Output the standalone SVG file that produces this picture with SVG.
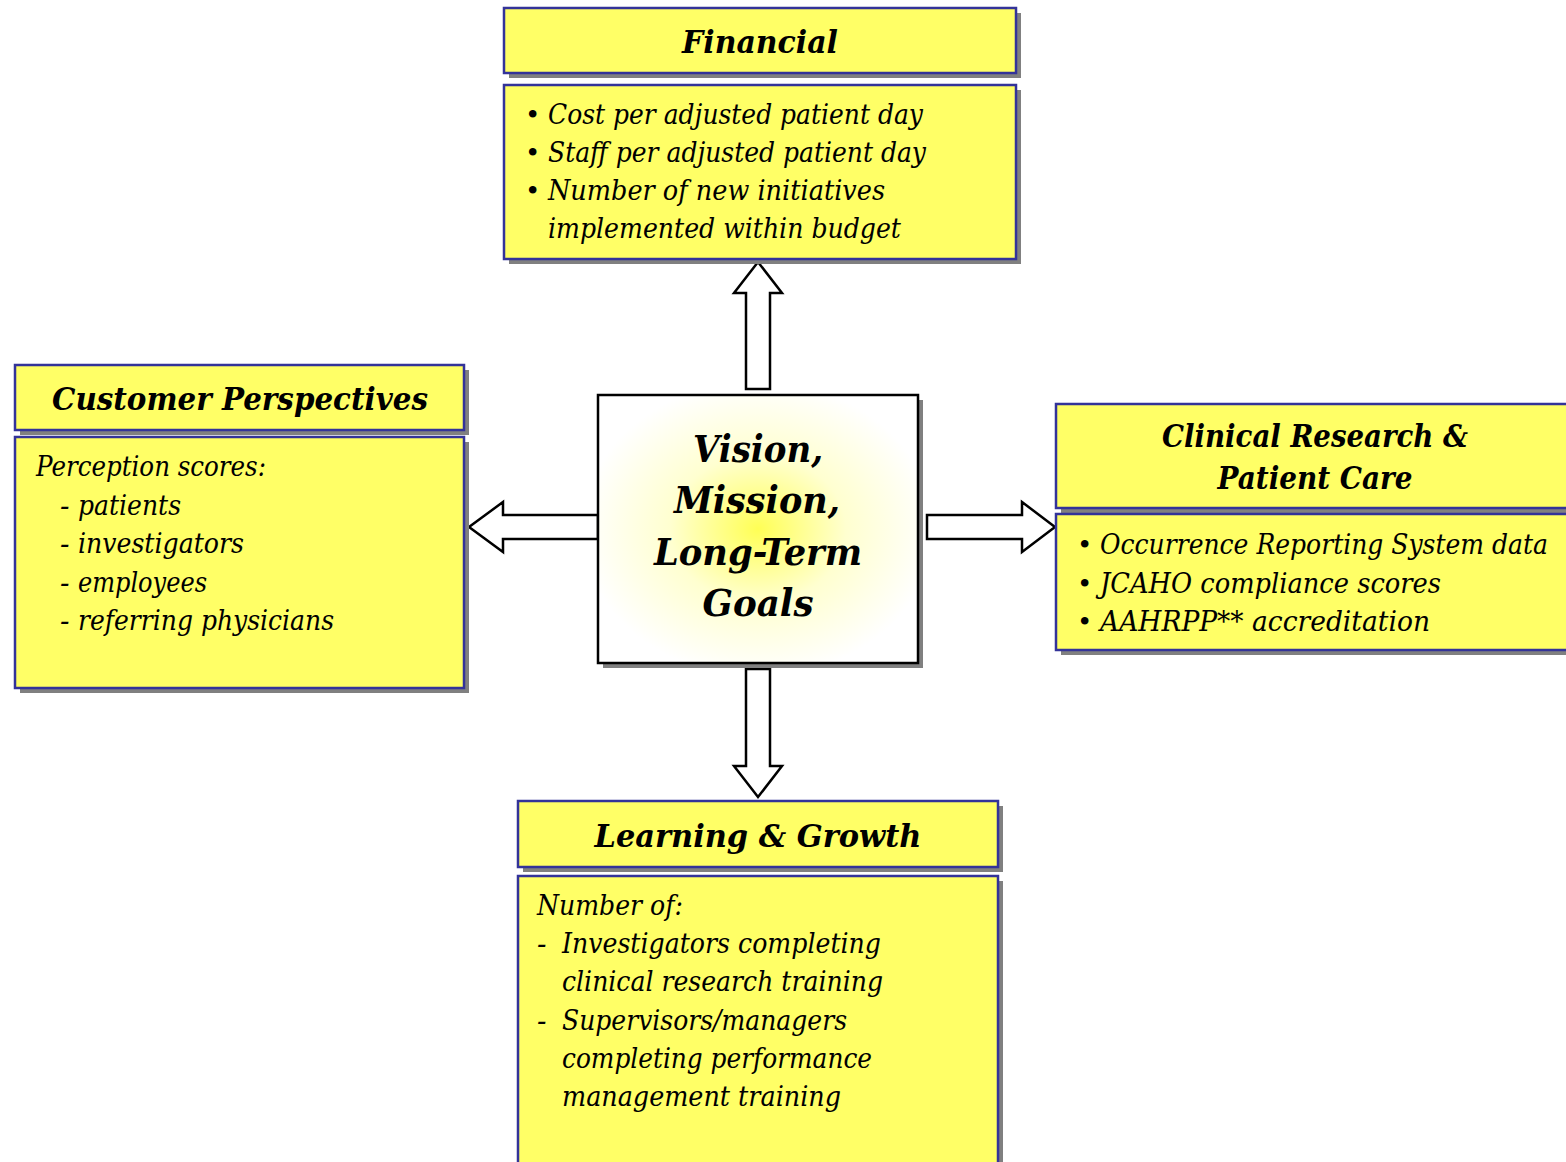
<svg xmlns="http://www.w3.org/2000/svg" width="1566" height="1162" viewBox="0 0 1566 1162">
<style>
.box{fill:#FFFF66;stroke:#333399;stroke-width:2.5}
.sh{fill:#808080}
.t{font-family:"DejaVu Serif","Liberation Serif",serif;font-style:italic;font-weight:bold;font-size:31px;fill:#000;text-anchor:middle}
.b{font-family:"DejaVu Serif","Liberation Serif",serif;font-style:italic;font-size:28px;fill:#000}
.bl{font-family:"DejaVu Serif","Liberation Serif",serif;font-size:26px;fill:#000}
.c{font-family:"DejaVu Serif","Liberation Serif",serif;font-style:italic;font-weight:bold;font-size:38px;fill:#000;text-anchor:middle}
.arr{fill:#fff;stroke:#000;stroke-width:2.5;stroke-linejoin:miter}
</style>
<defs>
<radialGradient id="glow" cx="0.5" cy="0.5" r="0.55">
<stop offset="0" stop-color="#FFFF55"/>
<stop offset="0.5" stop-color="#FFFFD0"/>
<stop offset="1" stop-color="#FFFFFF"/>
</radialGradient>
</defs>
<rect width="1566" height="1162" fill="#fff"/>

<g id="connectors">
<polygon class="arr" points="746,389 746,293 734,293 758,262 782,293 770,293 770,389"/>
<polygon class="arr" points="746,669 746,766 734,766 758,797 782,766 770,766 770,669"/>
<polygon class="arr" points="598,515 503,515 503,502 469,527 503,552 503,539 598,539"/>
<polygon class="arr" points="927,515 1022,515 1022,502 1055,527 1022,552 1022,539 927,539"/>
</g>

<g id="center">
<rect class="sh" x="603" y="400" width="320" height="268"/>
<rect x="598" y="395" width="320" height="268" fill="url(#glow)" stroke="#000" stroke-width="2.5"/>
<text class="c" x="758" y="462" textLength="130" lengthAdjust="spacingAndGlyphs">Vision,</text>
<text class="c" x="757" y="513" textLength="166" lengthAdjust="spacingAndGlyphs">Mission,</text>
<text class="c" x="758" y="565" textLength="208" lengthAdjust="spacingAndGlyphs">Long-Term</text>
<text class="c" x="758" y="616" textLength="111" lengthAdjust="spacingAndGlyphs">Goals</text>
</g>

<g id="financial">
<rect class="sh" x="509" y="13" width="512" height="65"/>
<rect class="box" x="504" y="8" width="512" height="65"/>
<text class="t" x="760" y="53" textLength="156" lengthAdjust="spacingAndGlyphs">Financial</text>
<rect class="sh" x="509" y="90" width="512" height="174"/>
<rect class="box" x="504" y="85" width="512" height="174"/>
<text class="bl" x="525" y="124">•</text>
<text class="b" x="548" y="124" textLength="375" lengthAdjust="spacingAndGlyphs">Cost per adjusted patient day</text>
<text class="bl" x="525" y="162">•</text>
<text class="b" x="548" y="162" textLength="378" lengthAdjust="spacingAndGlyphs">Staff per adjusted patient day</text>
<text class="bl" x="525" y="200">•</text>
<text class="b" x="548" y="200" textLength="337" lengthAdjust="spacingAndGlyphs">Number of new initiatives</text>
<text class="b" x="548" y="238" textLength="353" lengthAdjust="spacingAndGlyphs">implemented within budget</text>
</g>

<g id="customer">
<rect class="sh" x="20" y="370" width="449" height="65"/>
<rect class="box" x="15" y="365" width="449" height="65"/>
<text class="t" x="240" y="410" textLength="376" lengthAdjust="spacingAndGlyphs">Customer Perspectives</text>
<rect class="sh" x="20" y="442" width="449" height="251"/>
<rect class="box" x="15" y="437" width="449" height="251"/>
<text class="b" x="36" y="476" textLength="230" lengthAdjust="spacingAndGlyphs">Perception scores:</text>
<text class="b" x="60" y="515">-</text>
<text class="b" x="78" y="515" textLength="103" lengthAdjust="spacingAndGlyphs">patients</text>
<text class="b" x="60" y="553">-</text>
<text class="b" x="78" y="553" textLength="166" lengthAdjust="spacingAndGlyphs">investigators</text>
<text class="b" x="60" y="592">-</text>
<text class="b" x="78" y="592" textLength="129" lengthAdjust="spacingAndGlyphs">employees</text>
<text class="b" x="60" y="630">-</text>
<text class="b" x="78" y="630" textLength="256" lengthAdjust="spacingAndGlyphs">referring physicians</text>
</g>

<g id="clinical">
<rect class="sh" x="1061" y="409" width="520" height="104"/>
<rect class="box" x="1056" y="404" width="520" height="104"/>
<text class="t" x="1315" y="447" textLength="306" lengthAdjust="spacingAndGlyphs">Clinical Research &amp;</text>
<text class="t" x="1315" y="489" textLength="195" lengthAdjust="spacingAndGlyphs">Patient Care</text>
<rect class="sh" x="1061" y="519" width="520" height="136"/>
<rect class="box" x="1056" y="514" width="520" height="136"/>
<text class="bl" x="1077" y="554">•</text>
<text class="b" x="1100" y="554" textLength="448" lengthAdjust="spacingAndGlyphs">Occurrence Reporting System data</text>
<text class="bl" x="1077" y="593">•</text>
<text class="b" x="1100" y="593" textLength="341" lengthAdjust="spacingAndGlyphs">JCAHO compliance scores</text>
<text class="bl" x="1077" y="631">•</text>
<text class="b" x="1100" y="631" textLength="330" lengthAdjust="spacingAndGlyphs">AAHRPP** accreditation</text>
</g>

<g id="learning">
<rect class="sh" x="523" y="806" width="480" height="66"/>
<rect class="box" x="518" y="801" width="480" height="66"/>
<text class="t" x="758" y="847" textLength="327" lengthAdjust="spacingAndGlyphs">Learning &amp; Growth</text>
<rect class="sh" x="523" y="881" width="480" height="300"/>
<rect class="box" x="518" y="876" width="480" height="300"/>
<text class="b" x="537" y="915" textLength="146" lengthAdjust="spacingAndGlyphs">Number of:</text>
<text class="b" x="537" y="953">-</text>
<text class="b" x="562" y="953" textLength="319" lengthAdjust="spacingAndGlyphs">Investigators completing</text>
<text class="b" x="562" y="991" textLength="321" lengthAdjust="spacingAndGlyphs">clinical research training</text>
<text class="b" x="537" y="1030">-</text>
<text class="b" x="562" y="1030" textLength="285" lengthAdjust="spacingAndGlyphs">Supervisors/managers</text>
<text class="b" x="562" y="1068" textLength="310" lengthAdjust="spacingAndGlyphs">completing performance</text>
<text class="b" x="562" y="1106" textLength="279" lengthAdjust="spacingAndGlyphs">management training</text>
</g>
</svg>
